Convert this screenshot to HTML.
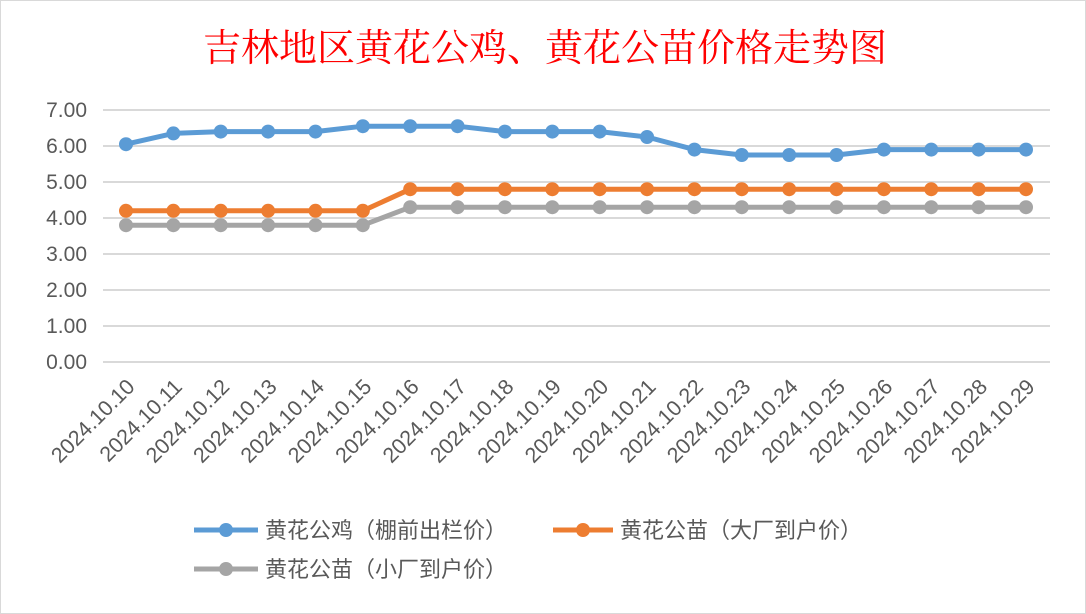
<!DOCTYPE html>
<html><head><meta charset="utf-8"><style>
body{margin:0;background:#fff}
svg{display:block;font-family:"Liberation Sans","Noto Sans CJK SC",sans-serif}
</style></head><body>
<svg width="1086" height="614">
<rect x="0.5" y="0.5" width="1085" height="613" fill="#fff" stroke="#d9d9d9"/>
<text x="545" y="61" text-anchor="middle" font-size="38" fill="#ff0000" font-family="'Liberation Serif','Noto Serif CJK SC',serif">吉林地区黄花公鸡、黄花公苗价格走势图</text>
<g id="grid"></g><g id="ylab"></g><g id="xlab"></g><g id="series"></g>
<g font-size="22" fill="#595959">
<line x1="194" y1="530" x2="258" y2="530" stroke="#5B9BD5" stroke-width="5"/><circle cx="226" cy="530" r="7" fill="#5B9BD5"/>
<text x="265" y="538">黄花公鸡（棚前出栏价）</text>
<line x1="553" y1="530" x2="613" y2="530" stroke="#ED7D31" stroke-width="5"/><circle cx="583" cy="530" r="7" fill="#ED7D31"/>
<text x="620" y="538">黄花公苗（大厂到户价）</text>
<line x1="194" y1="569" x2="258" y2="569" stroke="#A5A5A5" stroke-width="5"/><circle cx="226" cy="569" r="7" fill="#A5A5A5"/>
<text x="265" y="577">黄花公苗（小厂到户价）</text>
</g>
</svg>
<script>
const categories=["2024.10.10","2024.10.11","2024.10.12","2024.10.13","2024.10.14","2024.10.15","2024.10.16","2024.10.17","2024.10.18","2024.10.19","2024.10.20","2024.10.21","2024.10.22","2024.10.23","2024.10.24","2024.10.25","2024.10.26","2024.10.27","2024.10.28","2024.10.29"];
const rooster=[6.05,6.35,6.4,6.4,6.4,6.55,6.55,6.55,6.4,6.4,6.4,6.25,5.9,5.75,5.75,5.75,5.9,5.9,5.9,5.9];
const chickLarge=[4.2,4.2,4.2,4.2,4.2,4.2,4.8,4.8,4.8,4.8,4.8,4.8,4.8,4.8,4.8,4.8,4.8,4.8,4.8,4.8];
const chickSmall=[3.8,3.8,3.8,3.8,3.8,3.8,4.3,4.3,4.3,4.3,4.3,4.3,4.3,4.3,4.3,4.3,4.3,4.3,4.3,4.3];
const yTicks=[0,1,2,3,4,5,6,7];
const NS="http://www.w3.org/2000/svg";
function yS(v){return 362-v*36;}
function xS(i){return 126+i*(900/(categories.length-1));}
function mk(t,a,p){const e=document.createElementNS(NS,t);for(const k in a)e.setAttribute(k,a[k]);p.appendChild(e);return e;}
const grid=document.getElementById('grid'),yl=document.getElementById('ylab'),xl=document.getElementById('xlab'),sg=document.getElementById('series');
yTicks.forEach(v=>{
 const l=mk('line',{x1:103,x2:1050,y1:yS(v),y2:yS(v),stroke:'#d9d9d9','stroke-width':2},grid);
 
 
 const t=mk('text',{x:87,y:yS(v)+7,'text-anchor':'end','font-size':21,fill:'#595959'},yl);
 t.textContent=v.toFixed(2);
 
 
});
categories.forEach((c,i)=>{
 const x=xS(i)+10,y=388;
 const t=mk('text',{x:x,y:y,'text-anchor':'end','font-size':21.5,fill:'#595959',transform:`rotate(-45 ${x} ${y})`},xl);
 t.textContent=c;
 
 
});
[[rooster,'#5B9BD5','rooster'],[chickLarge,'#ED7D31','chick-large'],[chickSmall,'#A5A5A5','chick-small']].reverse().forEach(([d,col,n])=>{
 const g=mk('g',{},sg);
 
 
 const p=mk('polyline',{points:d.map((v,i)=>xS(i)+','+yS(v)).join(' '),fill:'none',stroke:col,'stroke-width':5,'stroke-linejoin':'round'},g);
 
 
 d.forEach((v,i)=>{
  const c=mk('circle',{cx:xS(i),cy:yS(v),r:7,fill:col},g);
  
  
 });
});
</script>
</body></html>
